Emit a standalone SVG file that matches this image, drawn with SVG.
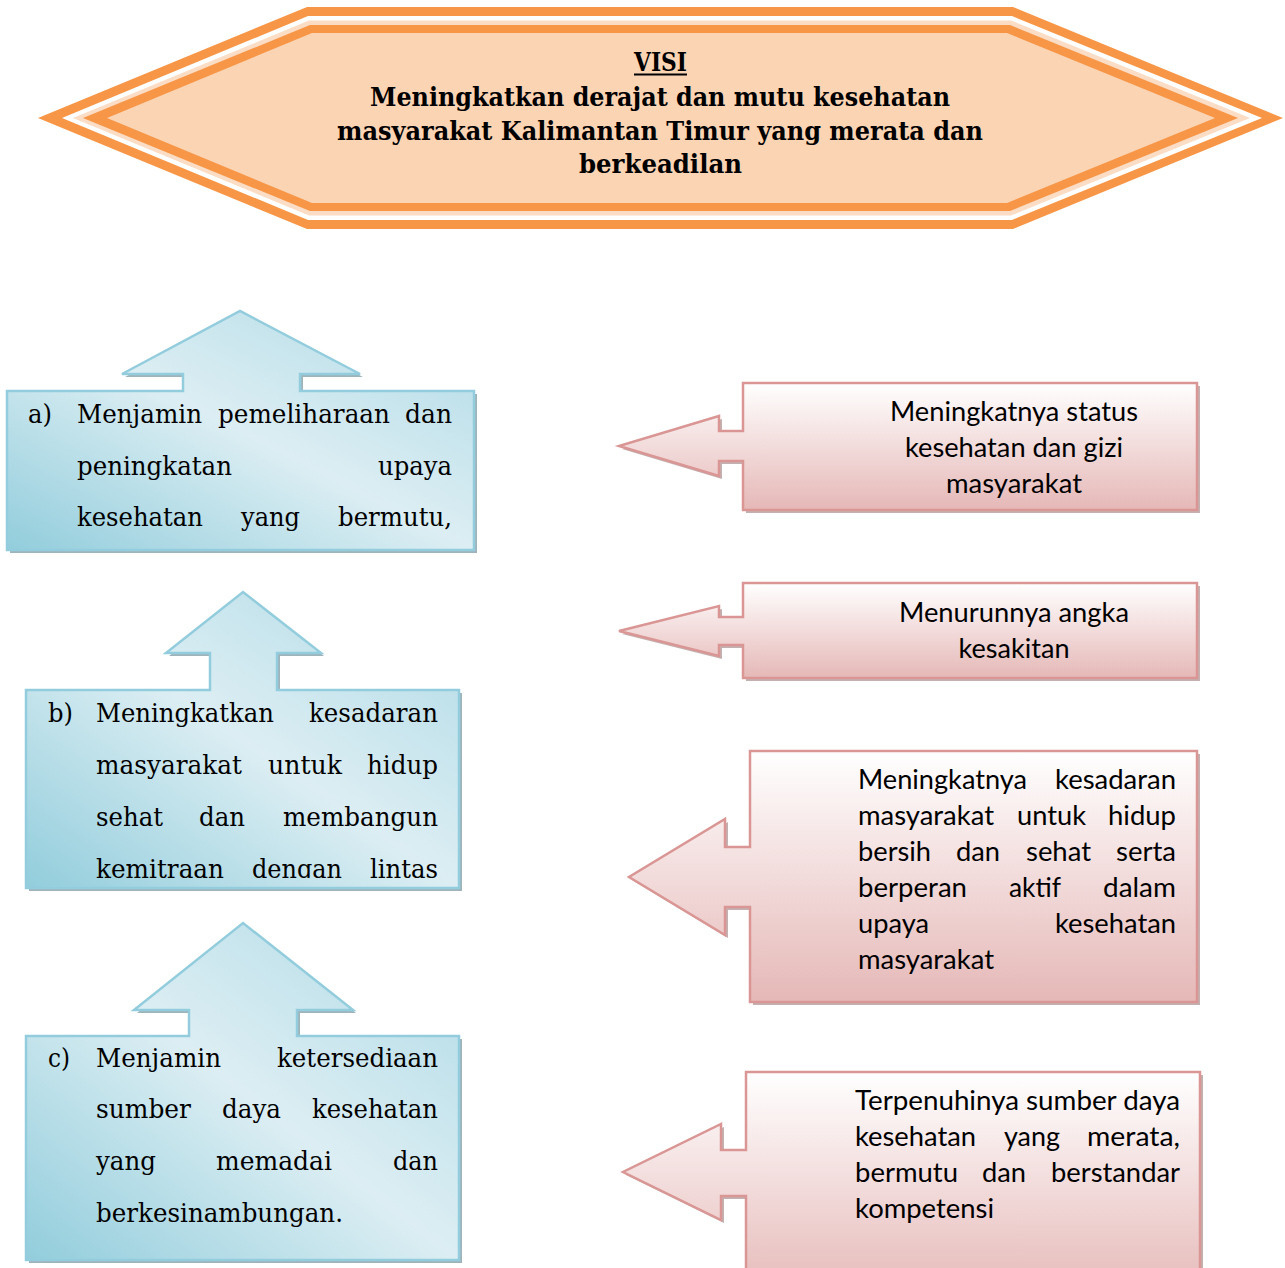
<svg xmlns="http://www.w3.org/2000/svg" width="1285" height="1268" viewBox="0 0 1285 1268">
<defs>
<linearGradient id="gBlue" x1="0" y1="1" x2="1" y2="0">
<stop offset="0" stop-color="#92CDDC"/>
<stop offset="0.5" stop-color="#DCEEF3"/>
<stop offset="1" stop-color="#B0DAE6"/>
</linearGradient>
<linearGradient id="gPink" x1="0" y1="0" x2="0" y2="1">
<stop offset="0" stop-color="#FFFFFF"/>
<stop offset="1" stop-color="#E5B8B7"/>
</linearGradient>
<clipPath id="clipB"><rect x="26" y="690" width="433" height="188"/></clipPath>
</defs>
<style>
.blue{fill:url(#gBlue);stroke:#93CDDD;stroke-width:2.5}
.bsh{fill:#8EA6AE;opacity:.85}
.pink{fill:url(#gPink);stroke:#D99694;stroke-width:2.5}
.psh{fill:#B49C9C;opacity:.8}
.lt{font-family:"DejaVu Serif","Liberation Serif",serif;font-size:25.5px;fill:#000}
.rt{font-family:Lato,"Liberation Sans",sans-serif;font-size:26px;fill:#000}
.bt{font-family:"DejaVu Serif","Liberation Serif",serif;font-size:25.5px;font-weight:bold;fill:#000}
</style>
<rect width="1285" height="1268" fill="#FFFFFF"/>

<g id="visi">
<polygon points="38,118 307,7 1013,7 1283,118 1013,229 307,229" fill="#F79646"/>
<polygon points="62,118 308,16 1012,16 1262,118 1012,220 308,220" fill="#FFFFFF"/>
<polygon points="73,118 309,20.5 1011,20.5 1250,118 1011,215.5 309,215.5" fill="#FBDCC4"/>
<polygon points="83,118 310,25 1010,25 1238,118 1010,211 310,211" fill="#F79646"/>
<polygon points="107,118 312,33 1007,33 1215,118 1007,203 312,203" fill="#FBD4B4"/>
<text class="bt" x="660.5" y="71" text-anchor="middle" textLength="53" lengthAdjust="spacingAndGlyphs">VISI</text>
<rect x="634" y="73.5" width="53" height="2" fill="#000"/>
<text class="bt" x="660" y="106" text-anchor="middle" textLength="580" lengthAdjust="spacingAndGlyphs">Meningkatkan derajat dan mutu kesehatan</text>
<text class="bt" x="660" y="140" text-anchor="middle" textLength="646" lengthAdjust="spacingAndGlyphs">masyarakat Kalimantan Timur yang merata dan</text>
<text class="bt" x="660.5" y="173" text-anchor="middle" textLength="163" lengthAdjust="spacingAndGlyphs">berkeadilan</text>
</g>

<g id="misi-a">
<path class="bsh" transform="translate(3,3)" d="M7,391 H183 V374 H122 L240,311 L360,374 H300 V391 H474 V550 H7 Z"/>
<path class="blue" d="M7,391 H183 V374 H122 L240,311 L360,374 H300 V391 H474 V550 H7 Z"/>
<text class="lt" x="28" y="423" textLength="24" lengthAdjust="spacingAndGlyphs">a)</text>
<text class="lt" x="77" y="423" textLength="125" lengthAdjust="spacingAndGlyphs">Menjamin</text>
<text class="lt" x="218" y="423" textLength="172" lengthAdjust="spacingAndGlyphs">pemeliharaan</text>
<text class="lt" x="405" y="423" textLength="47" lengthAdjust="spacingAndGlyphs">dan</text>
<text class="lt" x="77" y="475" textLength="155" lengthAdjust="spacingAndGlyphs">peningkatan</text>
<text class="lt" x="378" y="475" textLength="74" lengthAdjust="spacingAndGlyphs">upaya</text>
<text class="lt" x="77" y="526" textLength="126" lengthAdjust="spacingAndGlyphs">kesehatan</text>
<text class="lt" x="241" y="526" textLength="59" lengthAdjust="spacingAndGlyphs">yang</text>
<text class="lt" x="338" y="526" textLength="114" lengthAdjust="spacingAndGlyphs">bermutu,</text>
</g>

<g id="misi-b">
<path class="bsh" transform="translate(3,3)" d="M26,690 H210 V653 H166 L243,592 L321,653 H277 V690 H459 V888 H26 Z"/>
<path class="blue" d="M26,690 H210 V653 H166 L243,592 L321,653 H277 V690 H459 V888 H26 Z"/>
<text class="lt" x="48" y="722" textLength="25" lengthAdjust="spacingAndGlyphs">b)</text>
<text class="lt" x="96" y="722" textLength="178" lengthAdjust="spacingAndGlyphs">Meningkatkan</text>
<text class="lt" x="309" y="722" textLength="129" lengthAdjust="spacingAndGlyphs">kesadaran</text>
<text class="lt" x="96" y="774" textLength="146" lengthAdjust="spacingAndGlyphs">masyarakat</text>
<text class="lt" x="268" y="774" textLength="74" lengthAdjust="spacingAndGlyphs">untuk</text>
<text class="lt" x="367" y="774" textLength="71" lengthAdjust="spacingAndGlyphs">hidup</text>
<text class="lt" x="96" y="826" textLength="67" lengthAdjust="spacingAndGlyphs">sehat</text>
<text class="lt" x="199" y="826" textLength="46" lengthAdjust="spacingAndGlyphs">dan</text>
<text class="lt" x="283" y="826" textLength="155" lengthAdjust="spacingAndGlyphs">membangun</text>
<g clip-path="url(#clipB)">
<text class="lt" x="96" y="878" textLength="128" lengthAdjust="spacingAndGlyphs">kemitraan</text>
<text class="lt" x="252" y="878" textLength="90" lengthAdjust="spacingAndGlyphs">dengan</text>
<text class="lt" x="370" y="878" textLength="68" lengthAdjust="spacingAndGlyphs">lintas</text>
</g>
</g>

<g id="misi-c">
<path class="bsh" transform="translate(3,3)" d="M26,1036 H189 V1010 H134 L243,923 L353,1010 H297 V1036 H459 V1260 H26 Z"/>
<path class="blue" d="M26,1036 H189 V1010 H134 L243,923 L353,1010 H297 V1036 H459 V1260 H26 Z"/>
<text class="lt" x="48" y="1067" textLength="22" lengthAdjust="spacingAndGlyphs">c)</text>
<text class="lt" x="96" y="1067" textLength="125" lengthAdjust="spacingAndGlyphs">Menjamin</text>
<text class="lt" x="277" y="1067" textLength="161" lengthAdjust="spacingAndGlyphs">ketersediaan</text>
<text class="lt" x="96" y="1118" textLength="95" lengthAdjust="spacingAndGlyphs">sumber</text>
<text class="lt" x="222" y="1118" textLength="59" lengthAdjust="spacingAndGlyphs">daya</text>
<text class="lt" x="312" y="1118" textLength="126" lengthAdjust="spacingAndGlyphs">kesehatan</text>
<text class="lt" x="96" y="1170" textLength="60" lengthAdjust="spacingAndGlyphs">yang</text>
<text class="lt" x="216" y="1170" textLength="116" lengthAdjust="spacingAndGlyphs">memadai</text>
<text class="lt" x="393" y="1170" textLength="45" lengthAdjust="spacingAndGlyphs">dan</text>
<text class="lt" x="96" y="1222" textLength="247" lengthAdjust="spacingAndGlyphs">berkesinambungan.</text>
</g>

<g id="hasil-1">
<path class="psh" transform="translate(3,3)" d="M743,383 H1197 V510 H743 V461 H719 V476 L619,446 L719,416 V431 H743 Z"/>
<path class="pink" d="M743,383 H1197 V510 H743 V461 H719 V476 L619,446 L719,416 V431 H743 Z"/>
<text class="rt" x="1014" y="421" text-anchor="middle" textLength="248" lengthAdjust="spacingAndGlyphs">Meningkatnya status</text>
<text class="rt" x="1014" y="457" text-anchor="middle" textLength="218" lengthAdjust="spacingAndGlyphs">kesehatan dan gizi</text>
<text class="rt" x="1014" y="493" text-anchor="middle" textLength="136" lengthAdjust="spacingAndGlyphs">masyarakat</text>
</g>

<g id="hasil-2">
<path class="psh" transform="translate(3,3)" d="M743,583 H1197 V678 H743 V645 H719 V656 L619,631 L719,606 V617 H743 Z"/>
<path class="pink" d="M743,583 H1197 V678 H743 V645 H719 V656 L619,631 L719,606 V617 H743 Z"/>
<text class="rt" x="1014" y="622" text-anchor="middle" textLength="230" lengthAdjust="spacingAndGlyphs">Menurunnya angka</text>
<text class="rt" x="1014" y="658" text-anchor="middle" textLength="111" lengthAdjust="spacingAndGlyphs">kesakitan</text>
</g>

<g id="hasil-3">
<path class="psh" transform="translate(3,3)" d="M750,751 H1197 V1002 H750 V907 H725 V935 L629,877 L725,819 V847 H750 Z"/>
<path class="pink" d="M750,751 H1197 V1002 H750 V907 H725 V935 L629,877 L725,819 V847 H750 Z"/>
<text class="rt" x="858" y="789" textLength="169" lengthAdjust="spacingAndGlyphs">Meningkatnya</text>
<text class="rt" x="1055" y="789" textLength="121" lengthAdjust="spacingAndGlyphs">kesadaran</text>
<text class="rt" x="858" y="825" textLength="136" lengthAdjust="spacingAndGlyphs">masyarakat</text>
<text class="rt" x="1017" y="825" textLength="69" lengthAdjust="spacingAndGlyphs">untuk</text>
<text class="rt" x="1108" y="825" textLength="68" lengthAdjust="spacingAndGlyphs">hidup</text>
<text class="rt" x="858" y="861" textLength="73" lengthAdjust="spacingAndGlyphs">bersih</text>
<text class="rt" x="956" y="861" textLength="44" lengthAdjust="spacingAndGlyphs">dan</text>
<text class="rt" x="1026" y="861" textLength="65" lengthAdjust="spacingAndGlyphs">sehat</text>
<text class="rt" x="1116" y="861" textLength="60" lengthAdjust="spacingAndGlyphs">serta</text>
<text class="rt" x="858" y="897" textLength="109" lengthAdjust="spacingAndGlyphs">berperan</text>
<text class="rt" x="1009" y="897" textLength="52" lengthAdjust="spacingAndGlyphs">aktif</text>
<text class="rt" x="1103" y="897" textLength="73" lengthAdjust="spacingAndGlyphs">dalam</text>
<text class="rt" x="858" y="933" textLength="71" lengthAdjust="spacingAndGlyphs">upaya</text>
<text class="rt" x="1055" y="933" textLength="121" lengthAdjust="spacingAndGlyphs">kesehatan</text>
<text class="rt" x="858" y="969" textLength="136" lengthAdjust="spacingAndGlyphs">masyarakat</text>
</g>

<g id="hasil-4">
<path class="psh" transform="translate(3,3)" d="M746,1072 H1200 V1300 H746 V1196 H721 V1220 L623,1172 L721,1124 V1150 H746 Z"/>
<path class="pink" d="M746,1072 H1200 V1300 H746 V1196 H721 V1220 L623,1172 L721,1124 V1150 H746 Z"/>
<text class="rt" x="855" y="1110" textLength="325" lengthAdjust="spacingAndGlyphs">Terpenuhinya sumber daya</text>
<text class="rt" x="855" y="1146" textLength="121" lengthAdjust="spacingAndGlyphs">kesehatan</text>
<text class="rt" x="1004" y="1146" textLength="56" lengthAdjust="spacingAndGlyphs">yang</text>
<text class="rt" x="1087" y="1146" textLength="93" lengthAdjust="spacingAndGlyphs">merata,</text>
<text class="rt" x="855" y="1182" textLength="103" lengthAdjust="spacingAndGlyphs">bermutu</text>
<text class="rt" x="982" y="1182" textLength="44" lengthAdjust="spacingAndGlyphs">dan</text>
<text class="rt" x="1051" y="1182" textLength="129" lengthAdjust="spacingAndGlyphs">berstandar</text>
<text class="rt" x="855" y="1218" textLength="139" lengthAdjust="spacingAndGlyphs">kompetensi</text>
</g>

<g id="connectors"></g>
</svg>
